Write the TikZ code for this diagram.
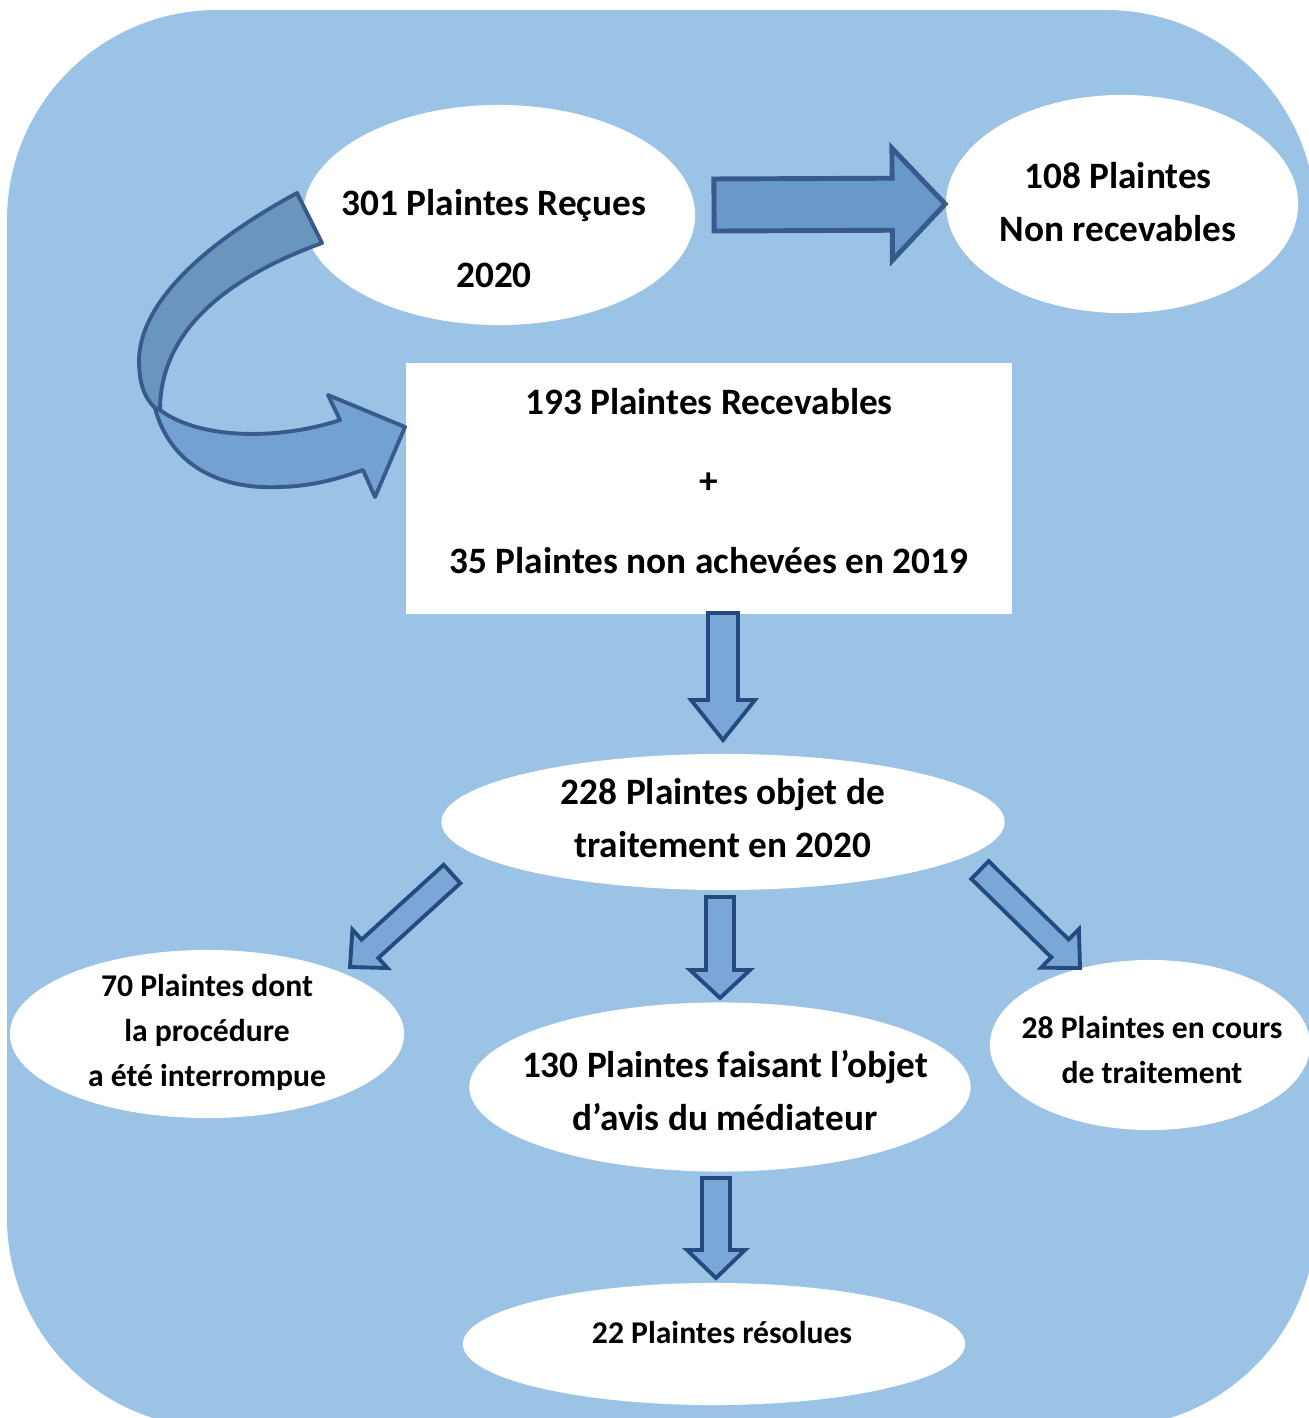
\documentclass[tikz,border=0pt]{standalone}
\usepackage{fontspec}
\setmainfont{Carlito}
\usetikzlibrary{shapes.geometric,calc}
\definecolor{cBack}{RGB}{155,195,229}
\definecolor{cArrow}{RGB}{104,153,201}
\definecolor{cArrowB}{RGB}{122,167,213}
\definecolor{cLine}{RGB}{56,90,140}
\definecolor{cLineB}{RGB}{36,74,128}
\definecolor{cRibbon}{RGB}{106,150,190}
\definecolor{cRibbonB}{RGB}{115,161,208}
\tikzset{myellipse/.style={
  shape=ellipse,
  fill=white,
  draw=none,
  inner sep=0pt,
  }
}
\tikzset{mybox/.style={
  shape=rectangle,
  fill=white,
  draw=none,
  inner sep=0pt,
  }
}
\tikzset{mytext/.style={
  align=center,
  font=\bfseries\fontsize{10.6pt}{15.1pt}\selectfont,
  text=black,
  }
}
\tikzset{mysmall/.style={
  align=center,
  font=\bfseries\fontsize{9pt}{12.8pt}\selectfont,
  text=black,
  }
}
\tikzset{myarrow/.style={
  fill=cArrow,
  draw=cLine,
  line width=1.4pt,
  }
}
\tikzset{myarrow2/.style={
  fill=cArrowB,
  draw=cLineB,
  line width=1.1pt,
  }
}
\tikzset{myribbon/.style={
  fill=cRibbon,
  draw=cLine,
  line width=1.1pt,
  line join=round,
  }
}
\tikzset{myribbon2/.style={
  fill=cRibbonB,
  draw=cLine,
  line width=1.1pt,
  line join=round,
  }
}
% block arrow: style, from, to, shaft half width, head half width, head length
\newcommand\blockarrow[6]{%
  \coordinate (neck) at ($(#3)!#6!(#2)$);
  \draw[#1] ($(#2)!#4!90:(#3)$) -- ($(neck)!#4!-90:(#2)$) -- ($(neck)!#5!-90:(#2)$)
    -- (#3) -- ($(neck)!#5!90:(#2)$) -- ($(neck)!#4!90:(#2)$) -- ($(#2)!#4!-90:(#3)$) -- cycle;
}

\begin{document}
\begin{tikzpicture}[x=0.01cm,y=-0.01cm]
  \useasboundingbox (0,0) rectangle (1309,1418);
  \clip (0,0) rectangle (1309,1418);
  \fill[cBack, rounded corners=2.1cm] (7,10) rectangle (1316,1428);

  % boxes
  \node[myellipse, minimum width=3.92cm, minimum height=2.2cm] (recues) at (499,215) {};
  \node[mytext] (trecues) at (494,239) {301 Plaintes Reçues\\[5.4pt]2020};
  \node[myellipse, minimum width=3.52cm, minimum height=2.18cm] (nonrec) at (1122,204) {};
  \node[mytext] (tnonrec) at (1118,202) {108 Plaintes\\Non recevables};
  \node[mybox, minimum width=6.06cm, minimum height=2.51cm] (recev) at (709,488.5) {};
  \node[mytext] (trecev) at (709,481) {193 Plaintes Recevables\\[7.4pt]+\\[7.4pt]35 Plaintes non achevées en 2019};
  \node[myellipse, minimum width=5.63cm, minimum height=1.36cm] (objet) at (723,822) {};
  \node[mytext] (tobjet) at (723,818) {228 Plaintes objet de\\traitement en 2020};
  \node[myellipse, minimum width=3.94cm, minimum height=1.68cm] (interr) at (207,1034) {};
  \begin{scope}
    \clip (0,940) rectangle (420,1089);
    \node[mysmall] (tinterr) at (207,1033) {70 Plaintes dont\\la procédure\\a été interrompue};
  \end{scope}
  \node[myellipse, minimum width=5.01cm, minimum height=1.69cm] (avis) at (720,1087) {};
  \node[mytext] (tavis) at (725,1091) {130 Plaintes faisant l’objet\\d’avis du médiateur};
  \node[myellipse, minimum width=3.2cm, minimum height=1.7cm] (encours) at (1150,1045) {};
  \node[mysmall] (tencours) at (1152,1050) {28 Plaintes en cours\\de traitement};
  \node[myellipse, minimum width=5.02cm, minimum height=1.22cm] (resol) at (714,1344) {};
  \node[mysmall] (tresol) at (722,1332) {22 Plaintes résolues};

  % arrows
  \coordinate (a1) at (714,205);
  \blockarrow{myarrow}{a1}{nonrec.west}{0.26cm}{0.56cm}{0.53cm}
  \coordinate (b1) at (723,613);
  \coordinate (b2) at (723,740);
  \blockarrow{myarrow2}{b1}{b2}{0.15cm}{0.32cm}{0.40cm}
  \coordinate (c1) at (452,874);
  \coordinate (c2) at (350,967);
  \blockarrow{myarrow2}{c1}{c2}{0.124cm}{0.26cm}{0.27cm}
  \coordinate (d1) at (720,897);
  \coordinate (d2) at (720,998);
  \blockarrow{myarrow2}{d1}{d2}{0.14cm}{0.30cm}{0.28cm}
  \coordinate (e1) at (980,870);
  \coordinate (e2) at (1080,968);
  \blockarrow{myarrow2}{e1}{e2}{0.124cm}{0.27cm}{0.28cm}
  \coordinate (f1) at (716,1178);
  \coordinate (f2) at (716,1278);
  \blockarrow{myarrow2}{f1}{f2}{0.14cm}{0.29cm}{0.28cm}

  % curved arrow
  \draw[myribbon2] (155,408) .. controls (170,465) and (220,490) .. (280,487)
    .. controls (315,486) and (340,478) .. (363,470) -- (375,497) -- (405,427)
    -- (328,395) -- (340,420) .. controls (280,440) and (200,440) .. (160,410) -- cycle;
  \draw[myribbon] (297,193) .. controls (210,240) and (140,300) .. (139,360)
    .. controls (139,385) and (145,398) .. (155,408) -- (160,410)
    .. controls (160,335) and (220,280) .. (322,243) -- cycle;
\end{tikzpicture}
\end{document}
